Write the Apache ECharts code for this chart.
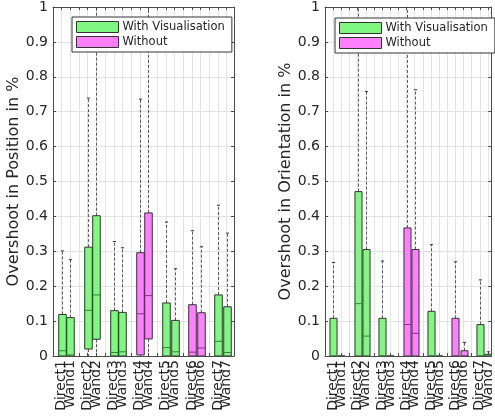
<!DOCTYPE html>
<html>
<head>
<meta charset="utf-8">
<script src="https://cdn.jsdelivr.net/npm/echarts@6/dist/echarts.min.js"></script>
<style>
html,body{margin:0;padding:0;background:#fff;}
#chart{width:495px;height:418px;}
</style>
</head>
<body>
<div id="chart"></div>
<script>
// ---- data ----
const categories = ['Direct1','Wand1','Direct2','Wand2','Direct3','Wand3','Direct4','Wand4','Direct5','Wand5','Direct6','Wand6','Direct7','Wand7'];
// condition of each box: true = With Visualisation, false = Without
const withVisualisation = [true,true,true,true,true,true,false,false,true,true,false,false,true,true];
const yTicks = [0,0.1,0.2,0.3,0.4,0.5,0.6,0.7,0.8,0.9,1];

// Overshoot in Position (whiskers > 1 run off the top of the axes)
const posMin    = [0,0,0,0,0,0,0,0,0,0,0,0,0,0];
const posQ1     = [0,0,0.020,0.048,0,0,0.003,0.049,0,0,0,0,0,0];
const posMedian = [0.015,0.003,0.131,0.175,0.010,0.012,0.121,0.173,0.024,0.012,0.011,0.023,0.042,0.010];
const posQ3     = [0.119,0.110,0.312,0.402,0.130,0.125,0.296,0.410,0.152,0.102,0.147,0.124,0.175,0.141];
const posMax    = [0.301,0.276,0.739,1.2,0.328,0.310,0.736,1.2,0.384,0.250,0.359,0.313,0.432,0.352];

// Overshoot in Orientation
const oriMin    = [0,0,0,0,0,0,0,0,0,0,0,0,0,0];
const oriQ1     = [0,0,0,0,0,0,0,0,0,0,0,0,0,0];
const oriMedian = [0,0,0.150,0.057,0,0,0.090,0.065,0,0,0,0,0,0];
const oriQ3     = [0.108,0,0.471,0.305,0.108,0,0.367,0.305,0.128,0,0.108,0.015,0.090,0.005];
const oriMax    = [0.268,0,1.2,0.758,0.272,0,1.2,0.763,0.319,0,0.270,0.039,0.218,0.012];

const legendNames = ['With Visualisation','Without'];

// ---- layout / style ----
const GREEN = '#80f780', MAGENTA = '#ff80ff';
const GREEN_MED = '#2f8a2f', MAGENTA_MED = '#8a2f8a';
const AXIS_COLOR = '#4a4a4a', GRID_COLOR = '#e3e3e3', TEXT_COLOR = '#262626';
const FONT = 'DejaVu Sans';

// slot on the axis: each group of (Direct, Wand) takes 3 slots (third is a gap)
function slotOf(i){ return Math.floor(i/2)*3 + (i%2) + 1; }
const slotLabel = {};
categories.forEach((c,i)=>{ slotLabel[slotOf(i)] = c; });

function buildData(mins,q1s,meds,q3s,maxs,wantWith){
  const out = [];
  categories.forEach((c,i)=>{
    if (withVisualisation[i] === wantWith) out.push([slotOf(i), mins[i], q1s[i], meds[i], q3s[i], maxs[i]]);
  });
  return out;
}

function makeRender(fill, medColor){
  return function(params, api){
    const x = api.value(0);
    const mn = api.value(1), q1 = api.value(2), md = api.value(3), q3 = api.value(4), mx = api.value(5);
    const pMin = api.coord([x,mn]), pQ1 = api.coord([x,q1]), pMd = api.coord([x,md]), pQ3 = api.coord([x,q3]), pMx = api.coord([x,mx]);
    const w = api.size([1,0])[0]*0.87;
    const cx = Math.round(pMin[0]) + 0.5;
    const children = [];
    const dash = {stroke:'#333', lineWidth:0.8, lineDash:[3,2]};
    if (mx > q3){
      children.push({type:'line', shape:{x1:cx,y1:pQ3[1],x2:cx,y2:pMx[1]}, style:dash});
      children.push({type:'line', shape:{x1:cx-1.6,y1:pMx[1],x2:cx+1.6,y2:pMx[1]}, style:{stroke:'#333',lineWidth:1}});
    }
    if (q1 > mn){
      children.push({type:'line', shape:{x1:cx,y1:pQ1[1],x2:cx,y2:pMin[1]}, style:dash});
    }
    children.push({type:'rect', shape:{x:cx-w/2, y:pQ3[1], width:w, height:Math.max(pQ1[1]-pQ3[1],0)},
      style:{fill:fill, stroke:'#333', lineWidth:1}});
    children.push({type:'line', shape:{x1:cx-w/2,y1:pMd[1],x2:cx+w/2,y2:pMd[1]}, style:{stroke:medColor,lineWidth:1}});
    return {type:'group', children};
  };
}

function xAxes(gridIndex, maxX){
  return [
    {type:'value', gridIndex, min:0, max:maxX, interval:1, position:'bottom',
     axisLine:{show:true, onZero:false, lineStyle:{color:AXIS_COLOR,width:1}},
     axisTick:{show:true, inside:true, length:3, lineStyle:{color:AXIS_COLOR}},
     splitLine:{show:true, lineStyle:{color:GRID_COLOR,width:1}},
     axisLabel:{show:true, rotate:90, margin:4, fontSize:14, fontFamily:FONT, color:TEXT_COLOR,
       formatter:(v)=> (Math.abs(v-Math.round(v))<1e-6 && slotLabel[Math.round(v)]) ? slotLabel[Math.round(v)] : ''}},
    {type:'value', gridIndex, min:0, max:maxX, interval:1, position:'top',
     axisLine:{show:true, onZero:false, lineStyle:{color:AXIS_COLOR,width:1}},
     axisTick:{show:true, inside:true, length:3, lineStyle:{color:AXIS_COLOR}},
     splitLine:{show:false}, axisLabel:{show:false}}
  ];
}
function yAxes(gridIndex, title){
  return [
    {type:'value', gridIndex, min:yTicks[0], max:yTicks[yTicks.length-1], interval:0.1, position:'left',
     name:title, nameLocation:'middle', nameGap:30, nameRotate:90,
     nameTextStyle:{fontSize:16, fontFamily:FONT, color:TEXT_COLOR},
     axisLine:{show:true, onZero:false, lineStyle:{color:AXIS_COLOR,width:1}},
     axisTick:{show:true, inside:true, length:3, lineStyle:{color:AXIS_COLOR}},
     splitLine:{show:true, lineStyle:{color:GRID_COLOR,width:1}},
     axisLabel:{fontSize:14, fontFamily:FONT, color:TEXT_COLOR, margin:5,
       formatter:(v)=> String(parseFloat(v.toFixed(1)))}},
    {type:'value', gridIndex, min:yTicks[0], max:yTicks[yTicks.length-1], interval:0.1, position:'right',
     axisLine:{show:true, onZero:false, lineStyle:{color:AXIS_COLOR,width:1}},
     axisTick:{show:true, inside:true, length:3, lineStyle:{color:AXIS_COLOR}},
     splitLine:{show:false}, axisLabel:{show:false}}
  ];
}

function legendAt(left, top){
  return {
    left, top, orient:'vertical', icon:'rect', itemWidth:42, itemHeight:11, itemGap:3,
    padding:[4,7,4,4], borderColor:'#333', borderWidth:1, backgroundColor:'#fff', borderRadius:0,
    textStyle:{fontSize:11.5, fontFamily:FONT, color:TEXT_COLOR, padding:[0,0,0,-1]},
    selectedMode:false,
    data:[
      {name:legendNames[0], itemStyle:{color:GREEN, borderColor:'#333', borderWidth:1}},
      {name:legendNames[1], itemStyle:{color:MAGENTA, borderColor:'#333', borderWidth:1}}
    ]
  };
}

function series(xIdx, yIdx, mins,q1s,meds,q3s,maxs){
  return [
    {type:'custom', name:legendNames[0], xAxisIndex:xIdx, yAxisIndex:yIdx, clip:true,
     itemStyle:{color:GREEN}, renderItem:makeRender(GREEN, GREEN_MED),
     encode:{x:0, y:[1,2,3,4,5]}, data:buildData(mins,q1s,meds,q3s,maxs,true)},
    {type:'custom', name:legendNames[1], xAxisIndex:xIdx, yAxisIndex:yIdx, clip:true,
     itemStyle:{color:MAGENTA}, renderItem:makeRender(MAGENTA, MAGENTA_MED),
     encode:{x:0, y:[1,2,3,4,5]}, data:buildData(mins,q1s,meds,q3s,maxs,false)}
  ];
}

const chart = echarts.init(document.getElementById('chart'), null, {renderer:'canvas'});
chart.setOption({
  animation:false,
  backgroundColor:'#fff',
  grid:[
    {left:53, top:6, width:181, height:350},
    {left:325, top:6, width:169, height:350}
  ],
  xAxis:[...xAxes(0, 20.85), ...xAxes(1, 20.4)],
  yAxis:[...yAxes(0, 'Overshoot in Position in %'), ...yAxes(1, 'Overshoot in Orientation in %')],
  legend:[legendAt(72, 17), legendAt(335, 18)],
  series:[
    ...series(0, 0, posMin,posQ1,posMedian,posQ3,posMax),
    ...series(2, 2, oriMin,oriQ1,oriMedian,oriQ3,oriMax)
  ]
});
</script>
</body>
</html>
